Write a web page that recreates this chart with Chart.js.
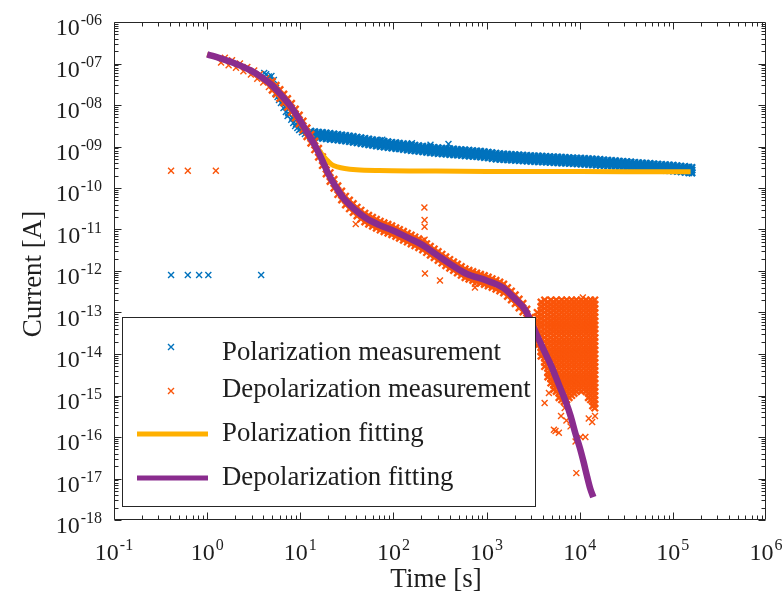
<!DOCTYPE html>
<html>
<head>
<meta charset="utf-8">
<title>Polarization / depolarization current</title>
<script src="https://cdn.jsdelivr.net/npm/chart.js@4.4.0/dist/chart.umd.min.js"></script>
<style>
  html, body { margin: 0; padding: 0; background: #fff; }
  canvas { display: block; }
</style>
</head>
<body>
<canvas id="pdcChart" width="783" height="601"></canvas>
<script>
// ---- data (time in s, current in A) ----
const polOutliers = [[0.41, 8.0e-13], [0.62, 8.0e-13], [0.82, 8.0e-13], [1.03, 8.0e-13], [3.8, 8.0e-13]];

const polEarly = [
  [4.1, 5.9e-8], [4.3, 5.5e-8], [4.6, 4.9e-8], [4.7, 4.4e-8], [4.9, 5.0e-8], [5.0, 3.6e-8], [5.2, 4.0e-8],
  [5.4, 1.9e-8], [5.5, 2.6e-8], [5.7, 1.56e-8], [5.9, 1.32e-8], [6.1, 1.5e-8], [6.2, 1.12e-8], [6.4, 1.2e-8],
  [6.6, 8.5e-9], [6.9, 9.0e-9], [7.0, 6.8e-9], [7.3, 5.4e-9], [7.4, 6.3e-9], [7.6, 5.8e-9], [8.0, 4.4e-9],
  [8.2, 5.0e-9], [8.4, 3.7e-9], [8.8, 3.1e-9], [9.0, 3.5e-9], [9.3, 2.8e-9], [9.7, 2.5e-9], [10.0, 2.6e-9],
  [10.4, 2.2e-9], [10.8, 2.3e-9], [11.2, 2.0e-9], [12.2, 1.9e-9],
  [76, 1.45e-9], [158, 1.2e-9], [250, 1.1e-9], [390, 1.15e-9]
];

// polarization band: [time, currents across the band]
const polBand = [
  [13, [2.32e-9, 2.0e-9, 1.72e-9]], [14.3, [2.26e-9, 1.95e-9, 1.68e-9]], [15.7, [2.2e-9, 1.9e-9, 1.63e-9]],
  [17.3, [2.15e-9, 1.85e-9, 1.59e-9]], [19, [2.09e-9, 1.8e-9, 1.55e-9]], [20.9, [2.04e-9, 1.76e-9, 1.51e-9]],
  [23, [1.99e-9, 1.71e-9, 1.48e-9]], [25.3, [1.94e-9, 1.67e-9, 1.44e-9]], [27.8, [1.89e-9, 1.63e-9, 1.4e-9]],
  [30.6, [1.84e-9, 1.59e-9, 1.37e-9]], [33.7, [1.78e-9, 1.53e-9, 1.32e-9]], [37, [1.73e-9, 1.49e-9, 1.28e-9]],
  [40.7, [1.67e-9, 1.44e-9, 1.24e-9]], [44.8, [1.61e-9, 1.39e-9, 1.19e-9]], [49.3, [1.56e-9, 1.34e-9, 1.15e-9]],
  [54.2, [1.5e-9, 1.29e-9, 1.11e-9]], [59.6, [1.45e-9, 1.25e-9, 1.08e-9]], [65.6, [1.4e-9, 1.21e-9, 1.04e-9]],
  [72.1, [1.36e-9, 1.17e-9, 1.01e-9]], [79.3, [1.32e-9, 1.14e-9, 9.8e-10]], [87.3, [1.29e-9, 1.11e-9, 9.5e-10]],
  [96, [1.25e-9, 1.07e-9, 9.25e-10]], [106, [1.22e-9, 1.05e-9, 9.05e-10]], [116, [1.19e-9, 1.03e-9, 8.84e-10]],
  [128, [1.155e-9, 9.95e-10, 8.57e-10]], [141, [1.12e-9, 9.66e-10, 8.32e-10]], [155, [1.09e-9, 9.4e-10, 8.09e-10]],
  [170, [1.06e-9, 9.16e-10, 7.89e-10]], [187, [1.04e-9, 8.93e-10, 7.69e-10]], [206, [1.01e-9, 8.71e-10, 7.5e-10]],
  [227, [9.86e-10, 8.49e-10, 7.31e-10]], [249, [9.64e-10, 8.3e-10, 7.15e-10]], [274, [9.39e-10, 8.09e-10, 6.97e-10]],
  [302, [9.22e-10, 7.94e-10, 6.84e-10]], [332, [9.06e-10, 7.8e-10, 6.72e-10]], [365, [8.91e-10, 7.67e-10, 6.61e-10]],
  [402, [8.74e-10, 7.53e-10, 6.48e-10]], [442, [8.6e-10, 7.41e-10, 6.38e-10]], [486, [8.45e-10, 7.28e-10, 6.27e-10]],
  [535, [8.31e-10, 7.16e-10, 6.17e-10]], [588, [8.16e-10, 7.03e-10, 6.05e-10]], [647, [8.03e-10, 6.92e-10, 5.96e-10]],
  [712, [7.88e-10, 6.79e-10, 5.85e-10]], [783, [7.76e-10, 6.68e-10, 5.75e-10]], [861, [7.6e-10, 6.55e-10, 5.64e-10]],
  [947, [7.41e-10, 6.38e-10, 5.49e-10]], [1042, [7.21e-10, 6.21e-10, 5.35e-10]], [1146, [7.0e-10, 6.03e-10, 5.19e-10]],
  [1261, [6.8e-10, 5.86e-10, 5.05e-10]], [1387, [6.65e-10, 5.73e-10, 4.93e-10]], [1526, [6.56e-10, 5.65e-10, 4.86e-10]],
  [1678, [6.47e-10, 5.57e-10, 4.8e-10]], [1846, [6.38e-10, 5.5e-10, 4.73e-10]], [2031, [6.31e-10, 5.43e-10, 4.68e-10]],
  [2234, [6.22e-10, 5.36e-10, 4.61e-10]], [2457, [6.13e-10, 5.28e-10, 4.55e-10]], [2703, [6.05e-10, 5.21e-10, 4.49e-10]],
  [2973, [5.98e-10, 5.15e-10, 4.43e-10]], [3270, [5.91e-10, 5.09e-10, 4.38e-10]], [3597, [5.85e-10, 5.04e-10, 4.34e-10]],
  [3957, [5.78e-10, 4.98e-10, 4.29e-10]], [4353, [5.71e-10, 4.92e-10, 4.24e-10]], [4788, [5.64e-10, 4.86e-10, 4.18e-10]],
  [5267, [5.58e-10, 4.81e-10, 4.14e-10]], [5793, [5.52e-10, 4.75e-10, 4.09e-10]], [6373, [5.45e-10, 4.7e-10, 4.04e-10]],
  [7010, [5.39e-10, 4.65e-10, 4.0e-10]], [7711, [5.33e-10, 4.59e-10, 3.95e-10]], [8482, [5.27e-10, 4.54e-10, 3.91e-10]],
  [9330, [5.21e-10, 4.49e-10, 3.87e-10]], [10260, [5.15e-10, 4.44e-10, 3.82e-10]], [11290, [5.09e-10, 4.39e-10, 3.78e-10]],
  [12420, [5.02e-10, 4.33e-10, 3.73e-10]], [13660, [4.94e-10, 4.26e-10, 3.67e-10]], [15030, [4.88e-10, 4.2e-10, 3.62e-10]],
  [16530, [4.81e-10, 4.14e-10, 3.56e-10]], [18180, [4.72e-10, 4.06e-10, 3.5e-10]], [20000, [4.64e-10, 4.0e-10, 3.44e-10]],
  [22000, [4.57e-10, 3.94e-10, 3.39e-10]], [24200, [4.5e-10, 3.87e-10, 3.34e-10]], [26620, [4.41e-10, 3.8e-10, 3.27e-10]],
  [29280, [4.33e-10, 3.73e-10, 3.21e-10]], [32210, [4.26e-10, 3.67e-10, 3.16e-10]], [35430, [4.19e-10, 3.61e-10, 3.11e-10]],
  [38970, [4.12e-10, 3.55e-10, 3.06e-10]], [42870, [4.05e-10, 3.49e-10, 3.01e-10]], [47160, [3.99e-10, 3.44e-10, 2.96e-10]],
  [51870, [3.92e-10, 3.38e-10, 2.91e-10]], [57060, [3.85e-10, 3.32e-10, 2.86e-10]], [62770, [3.79e-10, 3.27e-10, 2.81e-10]],
  [69040, [3.73e-10, 3.21e-10, 2.77e-10]], [75950, [3.67e-10, 3.16e-10, 2.72e-10]], [83540, [3.61e-10, 3.11e-10, 2.68e-10]],
  [91900, [3.55e-10, 3.06e-10, 2.64e-10]], [101100, [3.5e-10, 3.01e-10, 2.59e-10]], [111200, [3.41e-10, 2.94e-10, 2.53e-10]],
  [122300, [3.33e-10, 2.87e-10, 2.47e-10]], [134500, [3.26e-10, 2.81e-10, 2.42e-10]], [148000, [3.18e-10, 2.74e-10, 2.36e-10]],
  [160000, [3.12e-10, 2.69e-10, 2.31e-10]]
];

const depOutliers = [
  [0.41, 2.6e-10], [0.62, 2.6e-10], [1.24, 2.6e-10], [39.4, 1.35e-11], [215, 3.4e-11], [216, 1.7e-11],
  [216, 1.17e-11], [216, 5.7e-12], [218, 8.7e-13], [316, 5.9e-13], [750, 4.9e-13], [750, 4.0e-13], [10800, 2.3e-13]
];

const depEarly = [
  [1.41, 1.05e-7], [1.55, 1.38e-7], [1.7, 9.1e-8], [1.85, 1.2e-7], [2.04, 7.9e-8], [2.25, 1.0e-7], [2.45, 6.5e-8],
  [2.7, 8.3e-8], [2.95, 5.4e-8], [3.2, 6.8e-8], [3.45, 4.3e-8], [3.7, 5.6e-8], [4.0, 3.5e-8], [4.3, 4.4e-8], [4.6, 2.7e-8]
];

// depolarization band: [time, [upper edge, lower edge]]
const depBand = [
  [5.0, [3.72e-8, 2.29e-8]], [5.5, [2.96e-8, 1.82e-8]], [6.05, [2.34e-8, 1.44e-8]], [6.65, [1.82e-8, 1.12e-8]],
  [7.3, [1.43e-8, 8.83e-9]], [8.05, [1.1e-8, 6.76e-9]], [8.85, [7.94e-9, 4.9e-9]], [9.75, [5.71e-9, 3.52e-9]],
  [10.7, [4.07e-9, 2.51e-9]], [11.8, [2.8e-9, 1.73e-9]], [13, [1.95e-9, 1.2e-9]], [14.3, [1.35e-9, 8.34e-10]],
  [15.7, [9.0e-10, 5.55e-10]], [17.3, [5.66e-10, 3.49e-10]], [19, [3.55e-10, 2.19e-10]], [20.9, [2.33e-10, 1.44e-10]],
  [23, [1.61e-10, 9.93e-11]], [25.3, [1.13e-10, 6.98e-11]], [27.8, [8.39e-11, 5.18e-11]], [30.6, [6.32e-11, 3.9e-11]],
  [33.7, [5.13e-11, 3.16e-11]], [37, [4.2e-11, 2.59e-11]], [40.7, [3.44e-11, 2.12e-11]], [44.8, [2.91e-11, 1.79e-11]],
  [49.3, [2.46e-11, 1.52e-11]], [54.2, [2.18e-11, 1.35e-11]], [59.6, [1.96e-11, 1.21e-11]], [65.6, [1.75e-11, 1.08e-11]],
  [72.1, [1.58e-11, 9.73e-12]], [79.3, [1.45e-11, 8.93e-12]], [87.3, [1.33e-11, 8.18e-12]], [96, [1.22e-11, 7.52e-12]],
  [106, [1.1e-11, 6.81e-12]], [116, [1.0e-11, 6.18e-12]], [128, [9.02e-12, 5.56e-12]], [141, [8.11e-12, 5.0e-12]],
  [155, [7.31e-12, 4.51e-12]], [170, [6.59e-12, 4.06e-12]], [187, [5.92e-12, 3.65e-12]], [206, [5.25e-12, 3.24e-12]],
  [227, [4.53e-12, 2.79e-12]], [249, [3.93e-12, 2.42e-12]], [274, [3.39e-12, 2.09e-12]], [302, [2.92e-12, 1.8e-12]],
  [332, [2.53e-12, 1.56e-12]], [365, [2.19e-12, 1.35e-12]], [402, [1.89e-12, 1.17e-12]], [442, [1.66e-12, 1.03e-12]],
  [486, [1.46e-12, 8.99e-13]], [535, [1.28e-12, 7.91e-13]], [588, [1.13e-12, 6.95e-13]], [647, [1.04e-12, 6.38e-13]],
  [712, [9.62e-13, 5.93e-13]], [783, [8.93e-13, 5.51e-13]], [861, [8.32e-13, 5.13e-13]], [947, [7.73e-13, 4.76e-13]],
  [1042, [7.13e-13, 4.4e-13]], [1146, [6.5e-13, 4.01e-13]], [1261, [5.92e-13, 3.65e-13]], [1387, [5.41e-13, 3.33e-13]],
  [1526, [4.82e-13, 2.97e-13]], [1678, [3.96e-13, 2.44e-13]], [1846, [3.26e-13, 2.01e-13]], [2031, [2.65e-13, 1.63e-13]],
  [2234, [2.1e-13, 1.29e-13]], [2457, [1.66e-13, 1.03e-13]], [2703, [1.2e-13, 7.38e-14]], [2973, [7.59e-14, 4.68e-14]],
  [3270, [4.75e-14, 2.93e-14]]
];

// the noisy tail after ~3500 s: [time, currents seen at that time]
const depNoise = [
  [3500, [1.0e-13, 7.9e-14, 6.3e-14, 5.0e-14, 4.0e-14, 3.2e-14, 2.5e-14, 2.0e-14, 1.58e-14]],
  [3850, [1.78e-13, 1.41e-13, 1.12e-13, 8.9e-14, 7.1e-14, 5.6e-14, 4.5e-14, 3.5e-14, 2.8e-14, 2.2e-14, 1.78e-14, 1.41e-14, 1.12e-14, 8.9e-15]],
  [4200, [2.0e-13, 1.58e-13, 1.26e-13, 1.0e-13, 7.9e-14, 6.3e-14, 5.0e-14, 4.0e-14, 3.2e-14, 2.5e-14, 2.0e-14, 1.58e-14, 1.26e-14, 1.0e-14,
    7.9e-15, 6.3e-15, 5.0e-15]],
  [4550, [1.78e-13, 1.41e-13, 1.12e-13, 8.9e-14, 7.1e-14, 5.6e-14, 4.5e-14, 3.5e-14, 2.8e-14, 2.2e-14, 1.78e-14, 1.41e-14, 1.12e-14, 8.9e-15,
    7.1e-15, 5.6e-15, 4.5e-15, 3.5e-15, 2.8e-15]],
  [4900, [2.0e-13, 1.58e-13, 1.26e-13, 1.0e-13, 7.9e-14, 6.3e-14, 5.0e-14, 4.0e-14, 3.2e-14, 2.5e-14, 2.0e-14, 1.58e-14, 1.26e-14, 1.0e-14,
    7.9e-15, 6.3e-15, 5.0e-15, 4.0e-15, 3.2e-15, 2.5e-15, 2.0e-15]],
  [5250, [1.78e-13, 1.41e-13, 1.12e-13, 8.9e-14, 7.1e-14, 5.6e-14, 4.5e-14, 3.5e-14, 2.8e-14, 2.2e-14, 1.78e-14, 1.41e-14, 1.12e-14, 8.9e-15,
    7.1e-15, 5.6e-15, 4.5e-15, 3.5e-15, 2.8e-15, 2.2e-15, 1.78e-15, 1.41e-15]],
  [5600, [2.0e-13, 1.58e-13, 1.26e-13, 1.0e-13, 7.9e-14, 6.3e-14, 5.0e-14, 4.0e-14, 3.2e-14, 2.5e-14, 2.0e-14, 1.58e-14, 1.26e-14, 1.0e-14,
    7.9e-15, 6.3e-15, 5.0e-15, 4.0e-15, 3.2e-15, 2.5e-15, 2.0e-15, 1.58e-15, 1.26e-15]],
  [6000, [1.78e-13, 1.41e-13, 1.12e-13, 8.9e-14, 7.1e-14, 5.6e-14, 4.5e-14, 3.5e-14, 2.8e-14, 2.2e-14, 1.78e-14, 1.41e-14, 1.12e-14, 8.9e-15,
    7.1e-15, 5.6e-15, 4.5e-15, 3.5e-15, 2.8e-15, 2.2e-15, 1.78e-15, 1.41e-15, 1.12e-15, 8.9e-16]],
  [6400, [2.0e-13, 1.58e-13, 1.26e-13, 1.0e-13, 7.9e-14, 6.3e-14, 5.0e-14, 4.0e-14, 3.2e-14, 2.5e-14, 2.0e-14, 1.58e-14, 1.26e-14, 1.0e-14,
    7.9e-15, 6.3e-15, 5.0e-15, 4.0e-15, 3.2e-15, 2.5e-15, 2.0e-15, 1.58e-15, 1.26e-15, 1.0e-15, 7.9e-16]],
  [6800, [1.78e-13, 1.41e-13, 1.12e-13, 8.9e-14, 7.1e-14, 5.6e-14, 4.5e-14, 3.5e-14, 2.8e-14, 2.2e-14, 1.78e-14, 1.41e-14, 1.12e-14, 8.9e-15,
    7.1e-15, 5.6e-15, 4.5e-15, 3.5e-15, 2.8e-15, 2.2e-15, 1.78e-15, 1.41e-15, 1.12e-15, 8.9e-16, 7.1e-16]],
  [7250, [2.0e-13, 1.58e-13, 1.26e-13, 1.0e-13, 7.9e-14, 6.3e-14, 5.0e-14, 4.0e-14, 3.2e-14, 2.5e-14, 2.0e-14, 1.58e-14, 1.26e-14, 1.0e-14,
    7.9e-15, 6.3e-15, 5.0e-15, 4.0e-15, 3.2e-15, 2.5e-15, 2.0e-15, 1.58e-15, 1.26e-15, 1.0e-15, 7.9e-16]],
  [7700, [1.78e-13, 1.41e-13, 1.12e-13, 8.9e-14, 7.1e-14, 5.6e-14, 4.5e-14, 3.5e-14, 2.8e-14, 2.2e-14, 1.78e-14, 1.41e-14, 1.12e-14, 8.9e-15,
    7.1e-15, 5.6e-15, 4.5e-15, 3.5e-15, 2.8e-15, 2.2e-15, 1.78e-15, 1.41e-15, 1.12e-15, 8.9e-16]],
  [8200, [2.0e-13, 1.58e-13, 1.26e-13, 1.0e-13, 7.9e-14, 6.3e-14, 5.0e-14, 4.0e-14, 3.2e-14, 2.5e-14, 2.0e-14, 1.58e-14, 1.26e-14, 1.0e-14,
    7.9e-15, 6.3e-15, 5.0e-15, 4.0e-15, 3.2e-15, 2.5e-15, 2.0e-15, 1.58e-15, 1.26e-15, 1.0e-15]],
  [8700, [1.78e-13, 1.41e-13, 1.12e-13, 8.9e-14, 7.1e-14, 5.6e-14, 4.5e-14, 3.5e-14, 2.8e-14, 2.2e-14, 1.78e-14, 1.41e-14, 1.12e-14, 8.9e-15,
    7.1e-15, 5.6e-15, 4.5e-15, 3.5e-15, 2.8e-15, 2.2e-15, 1.78e-15, 1.41e-15, 1.12e-15]],
  [9200, [2.0e-13, 1.58e-13, 1.26e-13, 1.0e-13, 7.9e-14, 6.3e-14, 5.0e-14, 4.0e-14, 3.2e-14, 2.5e-14, 2.0e-14, 1.58e-14, 1.26e-14, 1.0e-14,
    7.9e-15, 6.3e-15, 5.0e-15, 4.0e-15, 3.2e-15, 2.5e-15, 2.0e-15, 1.58e-15, 1.26e-15]],
  [9800, [1.78e-13, 1.41e-13, 1.12e-13, 8.9e-14, 7.1e-14, 5.6e-14, 4.5e-14, 3.5e-14, 2.8e-14, 2.2e-14, 1.78e-14, 1.41e-14, 1.12e-14, 8.9e-15,
    7.1e-15, 5.6e-15, 4.5e-15, 3.5e-15, 2.8e-15, 2.2e-15, 1.78e-15, 1.41e-15]],
  [10400, [2.0e-13, 1.58e-13, 1.26e-13, 1.0e-13, 7.9e-14, 6.3e-14, 5.0e-14, 4.0e-14, 3.2e-14, 2.5e-14, 2.0e-14, 1.58e-14, 1.26e-14, 1.0e-14,
    7.9e-15, 6.3e-15, 5.0e-15, 4.0e-15, 3.2e-15, 2.5e-15, 2.0e-15, 1.58e-15, 1.26e-15]],
  [11000, [1.78e-13, 1.41e-13, 1.12e-13, 8.9e-14, 7.1e-14, 5.6e-14, 4.5e-14, 3.5e-14, 2.8e-14, 2.2e-14, 1.78e-14, 1.41e-14, 1.12e-14, 8.9e-15,
    7.1e-15, 5.6e-15, 4.5e-15, 3.5e-15, 2.8e-15, 2.2e-15, 1.78e-15, 1.41e-15]],
  [11700, [2.0e-13, 1.58e-13, 1.26e-13, 1.0e-13, 7.9e-14, 6.3e-14, 5.0e-14, 4.0e-14, 3.2e-14, 2.5e-14, 2.0e-14, 1.58e-14, 1.26e-14, 1.0e-14,
    7.9e-15, 6.3e-15, 5.0e-15, 4.0e-15, 3.2e-15, 2.5e-15, 2.0e-15, 1.58e-15, 1.26e-15]],
  [12400, [1.78e-13, 1.41e-13, 1.12e-13, 8.9e-14, 7.1e-14, 5.6e-14, 4.5e-14, 3.5e-14, 2.8e-14, 2.2e-14, 1.78e-14, 1.41e-14, 1.12e-14, 8.9e-15,
    7.1e-15, 5.6e-15, 4.5e-15, 3.5e-15, 2.8e-15, 2.2e-15, 1.78e-15, 1.41e-15, 1.12e-15, 8.9e-16]],
  [13100, [2.0e-13, 1.58e-13, 1.26e-13, 1.0e-13, 7.9e-14, 6.3e-14, 5.0e-14, 4.0e-14, 3.2e-14, 2.5e-14, 2.0e-14, 1.58e-14, 1.26e-14, 1.0e-14,
    7.9e-15, 6.3e-15, 5.0e-15, 4.0e-15, 3.2e-15, 2.5e-15, 2.0e-15, 1.58e-15, 1.26e-15, 1.0e-15, 7.9e-16]],
  [13800, [1.78e-13, 1.41e-13, 1.12e-13, 8.9e-14, 7.1e-14, 5.6e-14, 4.5e-14, 3.5e-14, 2.8e-14, 2.2e-14, 1.78e-14, 1.41e-14, 1.12e-14, 8.9e-15,
    7.1e-15, 5.6e-15, 4.5e-15, 3.5e-15, 2.8e-15, 2.2e-15, 1.78e-15, 1.41e-15, 1.12e-15, 8.9e-16, 7.1e-16, 5.6e-16]],
  [14500, [2.0e-13, 1.58e-13, 1.26e-13, 1.0e-13, 7.9e-14, 6.3e-14, 5.0e-14, 4.0e-14, 3.2e-14, 2.5e-14, 2.0e-14, 1.58e-14, 1.26e-14, 1.0e-14,
    7.9e-15, 6.3e-15, 5.0e-15, 4.0e-15, 3.2e-15, 2.5e-15, 2.0e-15, 1.58e-15, 1.26e-15, 1.0e-15, 7.9e-16, 6.3e-16, 5.0e-16]]
];

const depTailStray = [
  [4200, 6.6e-16], [4670, 1.15e-15], [5280, 1.5e-16], [5500, 1.4e-16], [5970, 1.26e-16], [6300, 3.2e-16],
  [6900, 5.0e-16], [7200, 2.5e-16], [7970, 1.8e-16], [9020, 7.8e-17], [9200, 1.35e-17], [10200, 1.0e-16],
  [11500, 1.0e-16], [12500, 2.8e-16], [13600, 2.3e-16], [14600, 3.2e-16]
];

// fitted curves
const polFitTime = [1.0, 1.5, 2, 3, 4, 5, 6, 8, 10, 12, 13, 14, 15, 16, 17, 18, 20, 22, 25, 30, 40, 70, 200, 1000, 10000, 100000, 155000];
const polFitCurrent = [1.66e-7, 1.26e-7, 1.0e-7, 6.61e-8, 4.37e-8, 2.95e-8, 1.91e-8, 8.91e-9, 4.17e-9, 2.09e-9, 1.51e-9, 1.17e-9, 9.55e-10,
  7.94e-10, 6.61e-10, 5.62e-10, 4.37e-10, 3.63e-10, 3.24e-10, 2.95e-10, 2.75e-10, 2.63e-10, 2.57e-10, 2.51e-10, 2.51e-10, 2.45e-10, 2.45e-10];

const depFitTime = [1.0, 1.5, 2, 3, 4, 5, 6, 8, 10, 12, 14, 16, 18, 20, 25, 30, 40, 50, 70, 100, 150, 200, 300, 400, 600,
  1000, 1500, 2000, 2600, 3400, 4200, 5000, 6000, 7000, 8000, 9000, 10000, 11000, 12000, 13000, 14000];
const depFitCurrent = [1.66e-7, 1.26e-7, 1.0e-7, 6.61e-8, 4.37e-8, 2.95e-8, 1.91e-8, 8.91e-9, 4.17e-9, 2.09e-9, 1.17e-9, 6.61e-10,
  3.72e-10, 2.19e-10, 9.33e-11, 5.25e-11, 2.82e-11, 1.91e-11, 1.29e-11, 9.33e-12, 6.03e-12, 4.37e-12, 2.34e-12, 1.51e-12, 8.71e-13,
  5.89e-13, 3.98e-13, 2.19e-13, 1.15e-13, 3.16e-14, 1.12e-14, 4.9e-15, 1.78e-15, 7.59e-16, 3.16e-16, 1.2e-16, 5.62e-17, 2.51e-17,
  1.12e-17, 5.62e-18, 3.55e-18];

// axes
const xTickValues = [1e-1, 1e0, 1e1, 1e2, 1e3, 1e4, 1e5, 1e6];
const xTickExps = ['-1', '0', '1', '2', '3', '4', '5', '6'];
const yTickValues = [1e-6, 1e-7, 1e-8, 1e-9, 1e-10, 1e-11, 1e-12, 1e-13, 1e-14, 1e-15, 1e-16, 1e-17, 1e-18];
const yTickExps = ['-06', '-07', '-08', '-09', '-10', '-11', '-12', '-13', '-14', '-15', '-16', '-17', '-18'];
const legendLabels = ['Polarization measurement', 'Depolarization measurement', 'Polarization fitting', 'Depolarization fitting'];

// ---- styling ----
const BLUE = '#0072BD';
const ORANGE = '#FA550A';
const YELLOW = '#FFB000';
const PURPLE = '#8A2C8E';
const AXIS_COLOR = '#262626';
const TEXT_COLOR = '#1e1e1e';
const SERIF = '"Liberation Serif", "Times New Roman", serif';

const toPoints = pairs => pairs.map(([x, y]) => ({ x, y }));
// dense runs of samples: these crosses pile up into a solid band in the original
const columnPoints = cols => cols.flatMap(([t, vals]) => vals.map(v => ({ x: t, y: v, dense: true })));
const zipPoints = (xs, ys) => xs.map((x, i) => ({ x, y: ys[i] }));

function drawCross(ctx, cx, cy, r, color) {
  ctx.strokeStyle = color;
  ctx.lineWidth = 1.4;
  ctx.beginPath();
  ctx.moveTo(cx - r, cy - r); ctx.lineTo(cx + r, cy + r);
  ctx.moveTo(cx - r, cy + r); ctx.lineTo(cx + r, cy - r);
  ctx.stroke();
}

// "10" with a raised exponent
function drawPower(ctx, exp, x, baseline, align) {
  ctx.font = `24px ${SERIF}`;
  const wBase = ctx.measureText('10').width;
  ctx.font = `16px ${SERIF}`;
  const wExp = ctx.measureText(exp).width;
  const total = wBase + 1 + wExp;
  const left = align === 'right' ? x - total : x - total / 2;
  ctx.textAlign = 'left';
  ctx.font = `24px ${SERIF}`;
  ctx.fillText('10', left, baseline);
  ctx.font = `16px ${SERIF}`;
  ctx.fillText(exp, left + wBase + 1, baseline - 10);
}

function drawLegendBox(chart) {
  const ctx = chart.ctx;
  const rowsSymbolY = [347, 391, 434, 478];
  const rowsBaseline = [360, 397, 441, 485];
  ctx.save();
  ctx.fillStyle = '#fff';
  ctx.fillRect(122.5, 317.5, 413, 189);
  ctx.strokeStyle = AXIS_COLOR;
  ctx.lineWidth = 1;
  ctx.strokeRect(122.5, 317.5, 413, 189);

  drawCross(ctx, 171, rowsSymbolY[0], 3, BLUE);
  drawCross(ctx, 171, rowsSymbolY[1], 3, ORANGE);
  ctx.lineCap = 'butt';
  ctx.lineWidth = 5;
  ctx.strokeStyle = YELLOW;
  ctx.beginPath(); ctx.moveTo(137, rowsSymbolY[2]); ctx.lineTo(208, rowsSymbolY[2]); ctx.stroke();
  ctx.strokeStyle = PURPLE;
  ctx.beginPath(); ctx.moveTo(137, rowsSymbolY[3]); ctx.lineTo(208, rowsSymbolY[3]); ctx.stroke();

  ctx.fillStyle = TEXT_COLOR;
  ctx.font = `26.8px ${SERIF}`;
  ctx.textAlign = 'left';
  ctx.textBaseline = 'alphabetic';
  legendLabels.forEach((label, i) => ctx.fillText(label, 222, rowsBaseline[i]));
  ctx.restore();
}

const matlabAxes = {
  id: 'matlabAxes',
  afterDatasetsDraw(chart) {
    drawLegendBox(chart);
  },
  afterDraw(chart) {
    const { ctx, chartArea: a, scales: { x, y } } = chart;
    const L = a.left + 0.5, R = a.right - 0.5, T = a.top + 0.5, B = a.bottom - 0.5;
    ctx.save();
    ctx.strokeStyle = AXIS_COLOR;
    ctx.lineWidth = 1;
    ctx.beginPath();
    ctx.rect(L, T, R - L, B - T);

    // x ticks, inside, bottom and top
    for (let d = -1; d <= 5; d++) {
      for (let k = 1; k <= 9; k++) {
        const px = Math.round(x.getPixelForValue(k * Math.pow(10, d))) + 0.5;
        const len = k === 1 ? 7 : 4;
        ctx.moveTo(px, B); ctx.lineTo(px, B - len);
        ctx.moveTo(px, T); ctx.lineTo(px, T + len);
      }
    }
    // y ticks, inside, left and right
    for (let d = -18; d <= -7; d++) {
      for (let k = 1; k <= 9; k++) {
        const py = Math.round(y.getPixelForValue(k * Math.pow(10, d))) + 0.5;
        const len = k === 1 ? 7 : 4;
        ctx.moveTo(L, py); ctx.lineTo(L + len, py);
        ctx.moveTo(R, py); ctx.lineTo(R - len, py);
      }
    }
    ctx.stroke();

    // tick labels
    ctx.fillStyle = TEXT_COLOR;
    ctx.textBaseline = 'alphabetic';
    xTickValues.forEach((v, i) => drawPower(ctx, xTickExps[i], x.getPixelForValue(v), 560, 'center'));
    yTickValues.forEach((v, i) => drawPower(ctx, yTickExps[i], 102, y.getPixelForValue(v) + 13, 'right'));

    // axis titles
    ctx.font = `27px ${SERIF}`;
    ctx.textAlign = 'center';
    ctx.fillText('Time [s]', 436, 587);
    ctx.translate(41, 274);
    ctx.rotate(-Math.PI / 2);
    ctx.fillText('Current [A]', 0, 0);
    ctx.restore();
  }
};

const markerStyle = color => ({
  showLine: false,
  pointStyle: 'crossRot',
  pointRadius: ctx => (ctx.raw && ctx.raw.dense ? 4.6 : 4.2),
  pointHoverRadius: 4.2,
  borderColor: color,
  backgroundColor: color,
  pointBorderWidth: ctx => (ctx.raw && ctx.raw.dense ? 2.4 : 1.4),
  borderWidth: 1.4
});

new Chart(document.getElementById('pdcChart'), {
  type: 'scatter',
  data: {
    datasets: [
      {
        label: legendLabels[0],
        data: toPoints(polOutliers.concat(polEarly)).concat(columnPoints(polBand)),
        order: 4,
        ...markerStyle(BLUE)
      },
      {
        label: legendLabels[1],
        data: toPoints(depOutliers.concat(depEarly, depTailStray))
          .concat(columnPoints(depBand), columnPoints(depNoise)),
        order: 3,
        ...markerStyle(ORANGE)
      },
      {
        label: legendLabels[2],
        data: zipPoints(polFitTime, polFitCurrent),
        showLine: true,
        pointRadius: 0,
        borderColor: YELLOW,
        borderWidth: 5,
        cubicInterpolationMode: 'monotone',
        order: 2
      },
      {
        label: legendLabels[3],
        data: zipPoints(depFitTime, depFitCurrent),
        showLine: true,
        pointRadius: 0,
        borderColor: PURPLE,
        borderWidth: 6.5,
        cubicInterpolationMode: 'monotone',
        order: 1
      }
    ]
  },
  options: {
    responsive: false,
    animation: false,
    devicePixelRatio: 1,
    events: [],
    layout: { padding: { left: 114, top: 22, right: 17, bottom: 81 } },
    scales: {
      x: { type: 'logarithmic', min: 1e-1, max: 1e6, display: false },
      y: { type: 'logarithmic', min: 1e-18, max: 1e-6, display: false }
    },
    plugins: {
      legend: { display: false },
      tooltip: { enabled: false }
    }
  },
  plugins: [matlabAxes]
});
</script>
</body>
</html>
